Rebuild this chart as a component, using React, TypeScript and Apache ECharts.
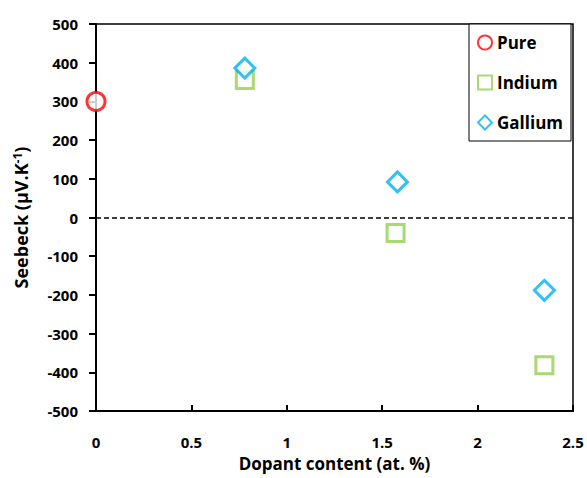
import React, { useEffect, useRef } from "react";
import * as echarts from "echarts";

const pureX = [0];
const pureY = [300];
const indiumX = [0.78, 1.57, 2.35];
const indiumY = [355, -40, -382];
const galliumX = [0.78, 1.58, 2.35];
const galliumY = [386, 92, -188];
const xTicks = [0, 0.5, 1, 1.5, 2, 2.5];
const yTicks = [-500, -400, -300, -200, -100, 0, 100, 200, 300, 400, 500];

const FONT = "'Open Sans', Lato, sans-serif";

const pairs = (xs: number[], ys: number[]) => xs.map((x, i) => [x, ys[i]]);

export default function App() {
  const ref = useRef<HTMLDivElement>(null);
  useEffect(() => {
    if (!ref.current) return;
    const chart = echarts.init(ref.current, null, { renderer: "svg" });
    chart.setOption({
      animation: false,
      backgroundColor: "#ffffff",
      textStyle: { fontFamily: FONT },
      grid: {
        left: 96,
        right: 14,
        top: 24,
        bottom: 67,
        show: true,
        borderColor: "#000",
        borderWidth: 1.5,
        backgroundColor: "transparent",
      },
      legend: {
        orient: "vertical",
        left: 469,
        top: 24,
        padding: [10, 8, 10, 8],
        itemGap: 23,
        itemWidth: 14,
        itemHeight: 14,
        borderColor: "#000",
        borderWidth: 1,
        backgroundColor: "#fff",
        textStyle: { fontFamily: FONT, fontWeight: "bold", fontSize: 17, color: "#000" },
        data: ["Pure", "Indium", "Gallium"],
      },
      xAxis: {
        type: "value",
        min: xTicks[0],
        max: xTicks[xTicks.length - 1],
        interval: 0.5,
        name: "Dopant content (at. %)",
        nameLocation: "middle",
        nameGap: 44,
        nameTextStyle: { fontFamily: FONT, fontWeight: "bold", fontSize: 17, color: "#000" },
        axisLine: { show: true, onZero: false, lineStyle: { color: "#000", width: 2 } },
        axisTick: { show: true, inside: true, length: 6, lineStyle: { color: "#000", width: 2 } },
        axisLabel: { margin: 23, fontFamily: FONT, fontWeight: "bold", fontSize: 15, color: "#000" },
        splitLine: { show: false },
      },
      yAxis: {
        type: "value",
        min: yTicks[0],
        max: yTicks[yTicks.length - 1],
        interval: 100,
        name: "{t|Seebeck (µV.K}{s|-1}{t|)}",
        nameLocation: "middle",
        nameRotate: 90,
        nameGap: 65,
        nameTextStyle: {
          rich: {
            t: { fontFamily: FONT, fontWeight: "bold", fontSize: 18, color: "#000" },
            s: { fontFamily: FONT, fontWeight: "bold", fontSize: 12, color: "#000", verticalAlign: "top", padding: [0, 0, 8, 0] },
          },
        },
        axisLine: { show: true, onZero: false, lineStyle: { color: "#000", width: 2 } },
        axisTick: { show: true, inside: false, length: 7, lineStyle: { color: "#000", width: 2 } },
        axisLabel: { margin: 18, fontFamily: FONT, fontWeight: "bold", fontSize: 15, color: "#000" },
        splitLine: { show: false },
      },
      series: [
        {
          name: "Pure",
          type: "scatter",
          symbol: "circle",
          symbolSize: 18,
          clip: false,
          itemStyle: { color: "#fff", borderColor: "#FF0000", borderWidth: 3 },
          data: pairs(pureX, pureY),
          markLine: {
            silent: true,
            symbol: ["none", "none"],
            label: { show: false },
            lineStyle: { color: "#000", type: [5, 3], width: 1.5 },
            data: [{ yAxis: 0 }],
          },
          z: 3,
        },
        {
          name: "Indium",
          type: "scatter",
          symbol: "rect",
          symbolSize: 17,
          clip: false,
          itemStyle: { color: "#fff", borderColor: "#92D050", borderWidth: 3 },
          data: pairs(indiumX, indiumY),
          z: 4,
        },
        {
          name: "Gallium",
          type: "scatter",
          symbol: "diamond",
          symbolSize: 20,
          clip: false,
          itemStyle: { color: "#fff", borderColor: "#00B0F0", borderWidth: 3 },
          data: pairs(galliumX, galliumY),
          z: 5,
        },
      ],
    });
    return () => chart.dispose();
  }, []);
  return (
    <div
      ref={ref}
      style={{ position: "fixed", left: 0, top: 0, width: 587, height: 478 }}
    />
  );
}
